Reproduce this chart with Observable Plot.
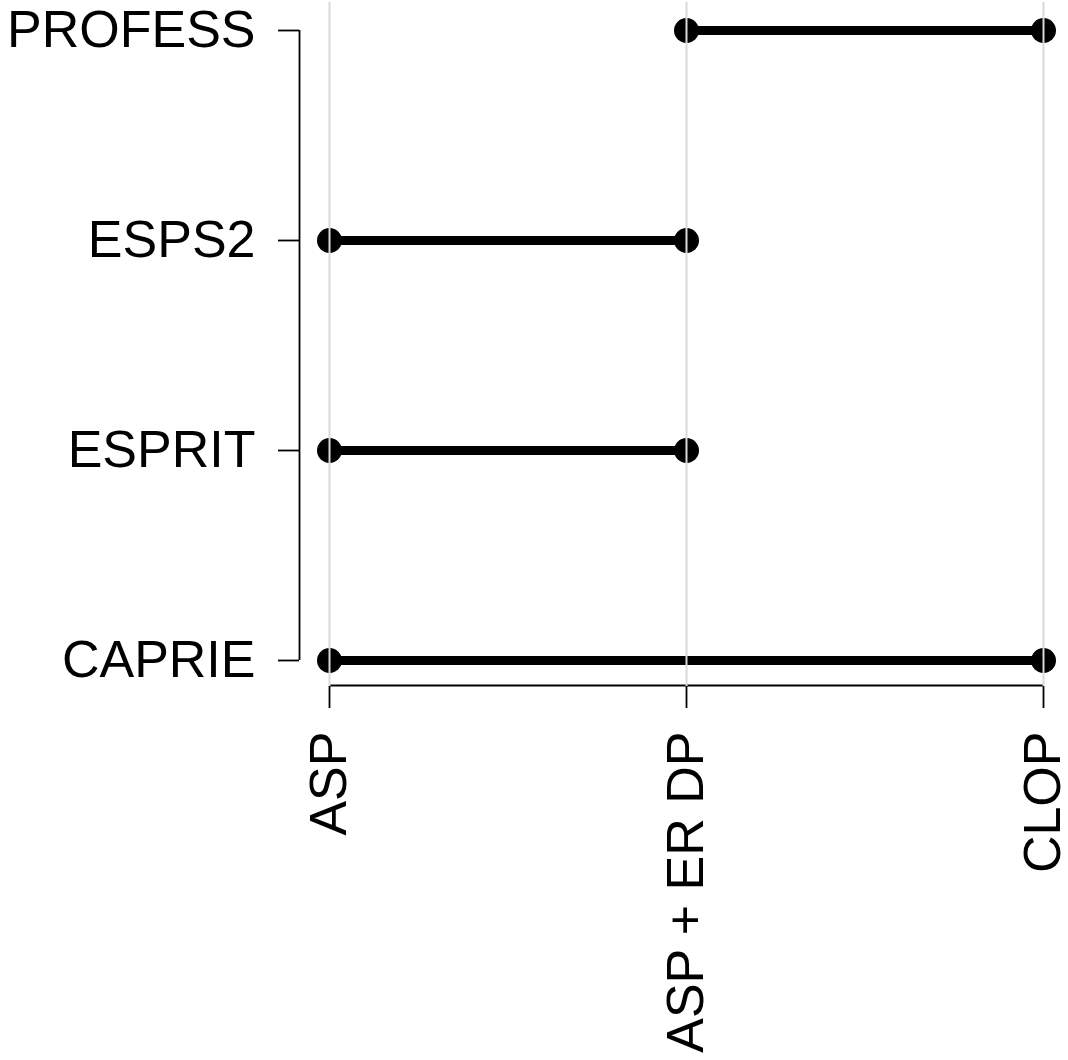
<!DOCTYPE html>
<html><head><meta charset="utf-8">
<script src="https://cdn.jsdelivr.net/npm/d3@7"></script>
<script src="https://cdn.jsdelivr.net/npm/@observablehq/plot@0.6"></script>
<style>body{margin:0;background:#fff}</style>
</head><body><div id="chart"></div>
<script>
const treatments = ["ASP", "ASP + ER DP", "CLOP"];
const trials = ["CAPRIE", "ESPRIT", "ESPS2", "PROFESS"];
const fromTreatment = ["ASP", "ASP", "ASP", "ASP + ER DP"];
const toTreatment = ["CLOP", "ASP + ER DP", "ASP + ER DP", "CLOP"];

const segments = trials.map((t, i) => ({trial: t, from: fromTreatment[i], to: toTreatment[i]}));
const points = segments.flatMap(d => [{trial: d.trial, treatment: d.from}, {trial: d.trial, treatment: d.to}]);

const plot = Plot.plot({
  width: 1068, height: 1060,
  marginTop: 2, marginLeft: 299, marginRight: 25, marginBottom: 374,
  style: {fontFamily: "'Liberation Sans', Arial, sans-serif", fontSize: "52px", background: "#fff", color: "#000"},
  x: {type: "point", domain: treatments, padding: 0, insetLeft: 30},
  y: {type: "point", domain: [...trials].reverse(), padding: 0, insetTop: 27, insetBottom: 25},
  marks: [
    Plot.axisY({tickSize: 21, tickPadding: 23, fontSize: 52, strokeWidth: 1.8, label: null}),
    Plot.axisX({tickSize: 22, tickPadding: 23, tickRotate: -90, fontSize: 52, strokeWidth: 1.8, label: null}),
    Plot.ruleX([treatments[0]], {x: d => d, y1: () => trials[0], y2: () => trials[trials.length - 1], dx: -30, strokeWidth: 1.8, stroke: "#000"}),
    Plot.ruleY([trials[0]], {y: d => d, x1: () => treatments[0], x2: () => treatments[treatments.length - 1], dy: 25, strokeWidth: 1.8, stroke: "#000"}),
    Plot.ruleY(segments, {y: "trial", x1: "from", x2: "to", strokeWidth: 9, stroke: "#000"}),
    Plot.dot(points, {x: "treatment", y: "trial", r: 12.5, fill: "#000", stroke: null}),
    Plot.gridX({stroke: "#d9d9d9", strokeOpacity: 1, strokeWidth: 2})
  ]
});
document.getElementById("chart").append(plot);
</script>
</body></html>
